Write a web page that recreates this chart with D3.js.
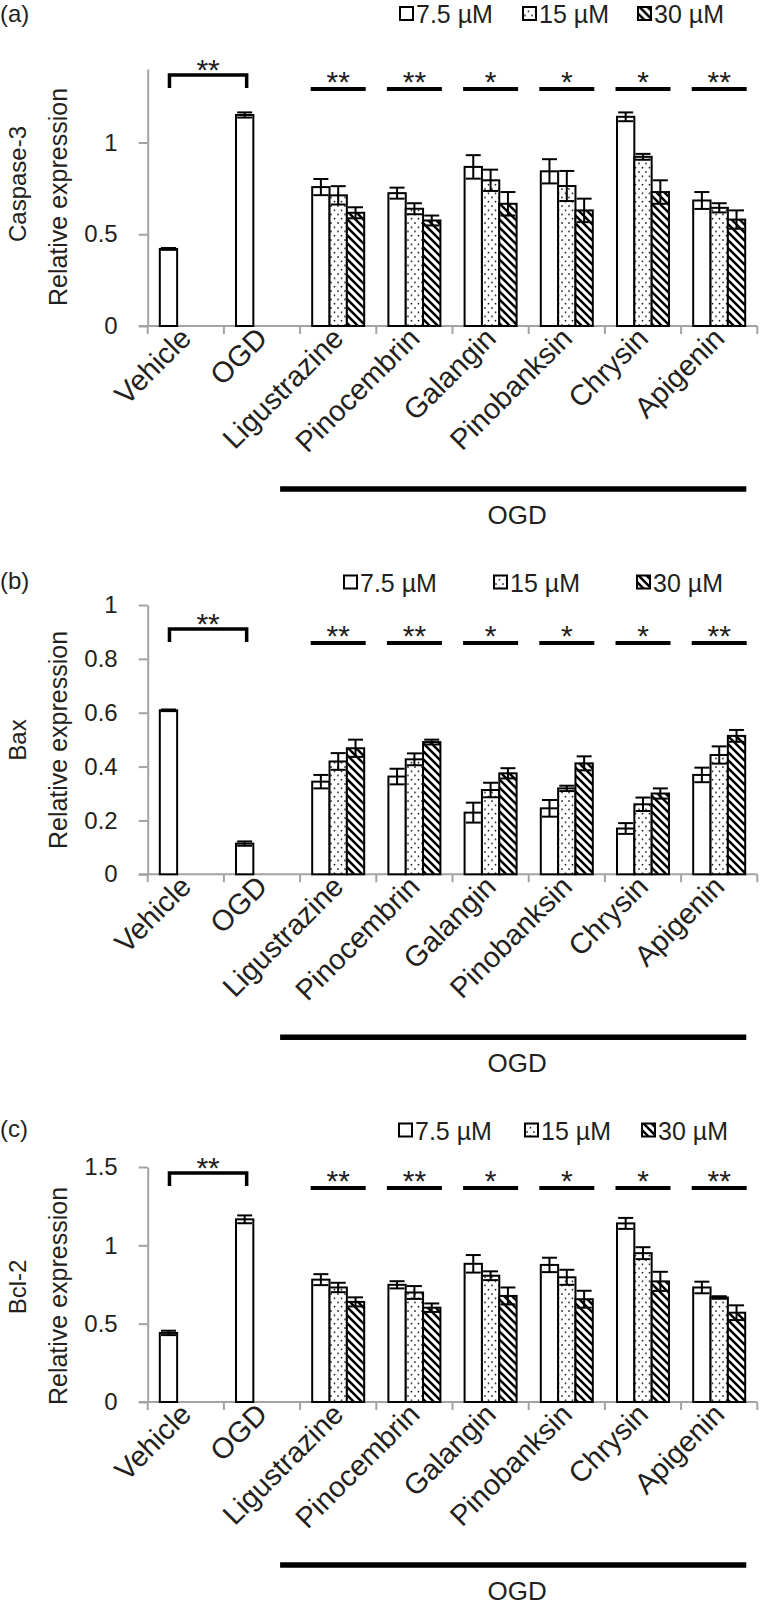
<!DOCTYPE html>
<html><head><meta charset="utf-8">
<script src="https://cdn.jsdelivr.net/npm/d3@7"></script>
<style>
body{margin:0;background:#fff}
svg{display:block;background:#fff}
text{font-family:"Liberation Sans",Arial,sans-serif;fill:#231f20}
</style>
</head><body>
<svg id="chart" width="765" height="1605"></svg>
<script>
// ---------------- data ----------------
const categories = ["Vehicle","OGD","Ligustrazine","Pinocembrin","Galangin","Pinobanksin","Chrysin","Apigenin"];
const doses = ["7.5 µM","15 µM","30 µM"];
const sigMarks = ["**","**","*","*","*","**"];   // treated groups vs OGD
const controlSig = "**";                          // Vehicle vs OGD
const groupLabel = "OGD";

// (a) Caspase-3
const casp3_75 = [0.42, 1.15, 0.757, 0.724, 0.867, 0.843, 1.14, 0.684];
const casp3_15 = [null, null, 0.712, 0.639, 0.794, 0.763, 0.922, 0.644];
const casp3_30 = [null, null, 0.617, 0.575, 0.666, 0.630, 0.730, 0.580];
const casp3_err75 = [0.005, 0.014, 0.044, 0.030, 0.064, 0.066, 0.024, 0.046];
const casp3_err15 = [null, null, 0.050, 0.030, 0.058, 0.082, 0.016, 0.025];
const casp3_err30 = [null, null, 0.030, 0.027, 0.064, 0.064, 0.064, 0.050];
const ticksA = [0, 0.5, 1];

// (b) Bax
const bax_75 = [0.609, 0.114, 0.344, 0.363, 0.229, 0.245, 0.170, 0.369];
const bax_15 = [null, null, 0.419, 0.427, 0.313, 0.319, 0.260, 0.443];
const bax_30 = [null, null, 0.468, 0.491, 0.375, 0.412, 0.300, 0.514];
const bax_err75 = [0.003, 0.008, 0.025, 0.029, 0.037, 0.031, 0.020, 0.027];
const bax_err15 = [null, null, 0.031, 0.022, 0.027, 0.010, 0.025, 0.032];
const bax_err30 = [null, null, 0.032, 0.009, 0.019, 0.026, 0.019, 0.022];
const ticksB = [0, 0.2, 0.4, 0.6, 0.8, 1];

// (c) Bcl-2
const bcl2_75 = [0.441, 1.166, 0.781, 0.748, 0.882, 0.875, 1.140, 0.731];
const bcl2_15 = [null, null, 0.731, 0.699, 0.806, 0.796, 0.950, 0.667];
const bcl2_30 = [null, null, 0.639, 0.602, 0.677, 0.656, 0.770, 0.570];
const bcl2_err75 = [0.014, 0.025, 0.035, 0.023, 0.056, 0.046, 0.035, 0.037];
const bcl2_err15 = [null, null, 0.030, 0.041, 0.028, 0.048, 0.038, 0.008];
const bcl2_err30 = [null, null, 0.029, 0.027, 0.054, 0.054, 0.061, 0.047];
const ticksC = [0, 0.5, 1, 1.5];

// ---------------- layout ----------------
const svg = d3.select("#chart");
const AXIS_GRAY = "#a3a3a3";
const xRange = [147.7, 757.3];
const x0 = d3.scaleBand().domain(categories).range(xRange);
const groupW = 52;
const x1 = d3.scaleBand().domain(doses)
  .range([(x0.bandwidth()-groupW)/2, (x0.bandwidth()+groupW)/2]);
const fills = ["#fff", "url(#dots)", "url(#hatch)"];
const STAR_OFF = 13.5; // asterisk visual centre above baseline

const defs = svg.append("defs");
const dots = defs.append("pattern").attr("id","dots").attr("patternUnits","userSpaceOnUse")
  .attr("width",7).attr("height",8.5);
dots.append("rect").attr("width",7).attr("height",8.5).attr("fill","#fff");
dots.append("circle").attr("cx",2).attr("cy",2).attr("r",0.9).attr("fill","#000");
dots.append("circle").attr("cx",5.5).attr("cy",6.25).attr("r",0.9).attr("fill","#000");
const hatch = defs.append("pattern").attr("id","hatch").attr("patternUnits","userSpaceOnUse")
  .attr("width",8).attr("height",8);
hatch.append("rect").attr("width",8).attr("height",8).attr("fill","#fff");
hatch.append("path").attr("d","M-2,-2L10,10M-2,6L2,10M6,-2L10,2")
  .attr("stroke","#000").attr("stroke-width",2.5);

function drawPanel(p, vals, errs){
  const y = d3.scaleLinear().domain([0, p.max]).range([p.yBase, p.yTop]);
  const g = svg.append("g");

  // panel letter
  g.append("text").attr("x",0).attr("y",p.letterY+9)
    .attr("font-size",24).text(p.letter);

  // y axis
  const yAxis = d3.axisLeft(y).tickValues(p.ticks).tickSize(9).tickSizeOuter(0)
    .tickPadding(21).tickFormat(d => String(d));
  const ya = g.append("g").attr("transform",`translate(${xRange[0]},0)`).call(yAxis);
  ya.select(".domain").attr("stroke",AXIS_GRAY).attr("stroke-width",2);
  ya.selectAll(".tick line").attr("stroke",AXIS_GRAY).attr("stroke-width",2);
  ya.selectAll(".tick text").attr("font-size",24).attr("font-family",null).attr("fill","#231f20");

  // x axis line and boundary ticks
  g.append("line").attr("x1",xRange[0]-9).attr("x2",xRange[1])
    .attr("y1",p.yBase).attr("y2",p.yBase).attr("stroke",AXIS_GRAY).attr("stroke-width",2);
  const bounds = categories.map(c => x0(c)).concat([xRange[1]]);
  g.selectAll("line.xt").data(bounds).join("line").attr("class","xt")
    .attr("x1",d=>d).attr("x2",d=>d).attr("y1",p.yBase).attr("y2",p.yBase+8)
    .attr("stroke",AXIS_GRAY).attr("stroke-width",2);

  // category labels
  g.selectAll("text.cat").data(categories).join("text").attr("class","cat")
    .attr("transform", d => `translate(${x0(d)+x0.bandwidth()/2+7},${p.yBase+14}) rotate(-45)`)
    .attr("text-anchor","end").attr("font-size",29).text(d => d);

  // axis titles
  g.append("text").attr("transform",`translate(18,${p.geneY}) rotate(-90)`)
    .attr("text-anchor","middle").attr("dy","0.35em").attr("font-size",24).text(p.gene);
  g.append("text").attr("transform",`translate(58,${p.relY}) rotate(-90)`)
    .attr("text-anchor","middle").attr("dy","0.35em").attr("font-size",25).text("Relative expression");

  // bars
  const rows = [];
  categories.forEach((c,i) => doses.forEach((s,j) => {
    if (vals[j][i] != null) rows.push({c, s, j, v: vals[j][i], e: errs[j][i]});
  }));
  g.selectAll("rect.bar").data(rows).join("rect").attr("class","bar")
    .attr("x", d => x0(d.c)+x1(d.s)).attr("width", x1.bandwidth())
    .attr("y", d => y(d.v)).attr("height", d => p.yBase - y(d.v))
    .attr("fill", d => fills[d.j]).attr("stroke","#000").attr("stroke-width",2);

  // error bars
  const cap = 7.5;
  const eb = g.selectAll("g.err").data(rows).join("g").attr("class","err")
    .attr("transform", d => `translate(${x0(d.c)+x1(d.s)+x1.bandwidth()/2},0)`);
  eb.append("line").attr("y1", d => y(d.v-d.e)).attr("y2", d => y(d.v+d.e))
    .attr("stroke","#000").attr("stroke-width",2);
  eb.append("line").attr("x1",-cap).attr("x2",cap).attr("y1", d => y(d.v+d.e)).attr("y2", d => y(d.v+d.e))
    .attr("stroke","#000").attr("stroke-width",2);
  eb.append("line").attr("x1",-cap).attr("x2",cap).attr("y1", d => y(d.v-d.e)).attr("y2", d => y(d.v-d.e))
    .attr("stroke","#000").attr("stroke-width",2);

  // bracket Vehicle vs OGD
  const xa = x0(categories[0]) + x1(doses[0]) + x1.bandwidth()/2 + 1;
  const xb = x0(categories[1]) + x1(doses[0]) + x1.bandwidth()/2 + 2;
  g.append("path").attr("d",`M${xa},${p.bracketY+13}V${p.bracketY}H${xb}V${p.bracketY+13}`)
    .attr("fill","none").attr("stroke","#000").attr("stroke-width",3.5);
  g.append("text").attr("x",(xa+xb)/2).attr("y",p.bracketY-9+STAR_OFF).attr("text-anchor","middle")
    .attr("font-size",30).text(controlSig);

  // significance lines
  const treated = categories.slice(2);
  const sg = g.selectAll("g.sig").data(treated).join("g").attr("class","sig")
    .attr("transform", d => `translate(${x0(d)+x0.bandwidth()/2},0)`);
  sg.append("line").attr("x1",-27.5).attr("x2",27.5).attr("y1",p.sigY).attr("y2",p.sigY)
    .attr("stroke","#000").attr("stroke-width",4);
  sg.append("text").attr("y",p.sigY-11+STAR_OFF).attr("text-anchor","middle")
    .attr("font-size",30).text((d,i) => sigMarks[i]);

  // OGD group line
  const gx1 = x0(categories[2]) - 20, gx2 = xRange[1] - 11;
  g.append("line").attr("x1",gx1).attr("x2",gx2).attr("y1",p.yBase+163).attr("y2",p.yBase+163)
    .attr("stroke","#000").attr("stroke-width",5.5);
  g.append("text").attr("x",(gx1+gx2)/2+4).attr("y",p.yBase+189).attr("dy","0.35em")
    .attr("text-anchor","middle").attr("font-size",26).text(groupLabel);

  // legend
  const lg = g.selectAll("g.leg").data(doses).join("g").attr("class","leg")
    .attr("transform",(d,i) => `translate(${p.legendX[i]},${p.legendY})`);
  lg.append("rect").attr("x",0).attr("y",-6.5).attr("width",13).attr("height",13)
    .attr("fill",(d,i) => fills[i]).attr("stroke","#000").attr("stroke-width",2);
  lg.append("text").attr("x",16).attr("y",9.5).attr("font-size",25).text(d => d);
}

drawPanel({letter:"(a)", letterY:13, gene:"Caspase-3", geneY:184, relY:197,
  max:1.4, yTop:69.1, yBase:326, ticks:ticksA, legendY:13.5, legendX:[400,523,638],
  bracketY:75, sigY:89},
  [casp3_75, casp3_15, casp3_30], [casp3_err75, casp3_err15, casp3_err30]);

drawPanel({letter:"(b)", letterY:580, gene:"Bax", geneY:740, relY:740,
  max:1, yTop:605, yBase:874.3, ticks:ticksB, legendY:582, legendX:[344,494,637],
  bracketY:629, sigY:643},
  [bax_75, bax_15, bax_30], [bax_err75, bax_err15, bax_err30]);

drawPanel({letter:"(c)", letterY:1128, gene:"Bcl-2", geneY:1287, relY:1296,
  max:1.5, yTop:1167, yBase:1402, ticks:ticksC, legendY:1130, legendX:[399,525,642],
  bracketY:1173, sigY:1188},
  [bcl2_75, bcl2_15, bcl2_30], [bcl2_err75, bcl2_err15, bcl2_err30]);
</script>
</body></html>
